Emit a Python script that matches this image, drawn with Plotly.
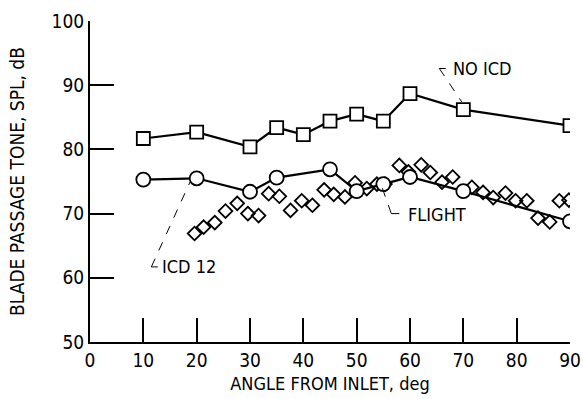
import plotly.graph_objects as go

# Blade passage tone SPL vs. angle from inlet
no_icd_angle = [10, 20, 30, 35, 40, 45, 50, 55, 60, 70, 90]
no_icd_spl = [81.7, 82.7, 80.4, 83.4, 82.3, 84.4, 85.5, 84.4, 88.7, 86.2, 83.7]

icd12_angle = [10, 20, 30, 35, 45, 50, 55, 60, 70, 90]
icd12_spl = [75.3, 75.5, 73.4, 75.6, 76.9, 73.5, 74.6, 75.7, 73.5, 68.8]

flight_angle = [19.6, 21.3, 23.4, 25.4, 27.6, 29.6, 31.6, 33.5, 35.5, 37.6,
                39.7, 41.7, 43.9, 45.7, 47.8, 49.7, 51.9, 53.8, 55.3, 58.0,
                59.7, 62.1, 63.8, 66.0, 68.0, 71.6, 73.7, 75.6, 77.9, 79.8,
                81.9, 84.0, 86.2, 88.0, 89.8]
flight_spl = [66.9, 67.9, 68.6, 70.4, 71.6, 70.0, 69.7, 73.1, 72.7, 70.5,
              72.0, 71.3, 73.7, 73.0, 72.6, 74.8, 73.9, 74.6, 74.6, 77.5,
              76.5, 77.6, 76.4, 74.9, 75.7, 74.1, 73.3, 72.5, 73.2, 72.0,
              72.0, 69.3, 68.7, 72.0, 72.1]

x_ticks = [0, 10, 20, 30, 40, 50, 60, 70, 80, 90]
y_ticks = [50, 60, 70, 80, 90, 100]

FONT = "DejaVu Sans Condensed, Liberation Sans Narrow, sans-serif"
INK = "black"

fig = go.Figure()

fig.add_trace(go.Scatter(
    x=flight_angle, y=flight_spl, mode="markers", name="FLIGHT",
    marker=dict(symbol="diamond-open", size=10.5, color=INK,
                line=dict(width=1.8, color=INK)),
))
fig.add_trace(go.Scatter(
    x=icd12_angle, y=icd12_spl, mode="lines+markers", name="ICD 12",
    line=dict(color=INK, width=2.2),
    marker=dict(symbol="circle", size=14, color="white",
                line=dict(width=1.8, color=INK)),
))
fig.add_trace(go.Scatter(
    x=no_icd_angle, y=no_icd_spl, mode="lines+markers", name="NO ICD",
    line=dict(color=INK, width=2.2),
    marker=dict(symbol="square", size=13, color="white",
                line=dict(width=1.8, color=INK)),
))

# Curve labels with dashed leaders
labels = [
    dict(text="NO ICD", x=67.6, y=92.6, lead=[(65.5, 92.6), (66.7, 92.6)],
         diag=[(65.5, 92.6), (69.7, 87.4)]),
    dict(text="FLIGHT", x=59.3, y=69.9, lead=[(56.5, 70.0), (58.0, 70.0)],
         diag=[(56.5, 70.0), (54.8, 74.0)]),
    dict(text="ICD 12", x=13.1, y=61.7, lead=[(11.5, 61.7), (12.7, 61.7)],
         diag=[(11.5, 61.7), (18.8, 75.0)]),
]
for lab in labels:
    fig.add_annotation(x=lab["x"], y=lab["y"], text=lab["text"], showarrow=False,
                       xanchor="left", yanchor="middle",
                       font=dict(family=FONT, size=18, color=INK))
    for seg in (lab["lead"], lab["diag"]):
        (x0, y0), (x1, y1) = seg
        fig.add_shape(type="line", x0=x0, y0=y0, x1=x1, y1=y1,
                      line=dict(color=INK, width=1, dash="dash"))

fig.update_xaxes(
    range=[0, 90], tickvals=x_ticks, ticktext=[str(v) for v in x_ticks],
    showline=True, linecolor=INK, linewidth=2, mirror=False,
    ticks="inside", ticklen=24, tickwidth=1.5, tickcolor=INK,
    showgrid=False, zeroline=False, automargin=False,
    tickfont=dict(family=FONT, size=19, color=INK),
    title=dict(text="ANGLE FROM INLET, deg", standoff=8,
               font=dict(family=FONT, size=18, color=INK)),
)
fig.update_yaxes(
    range=[50, 100], tickvals=y_ticks, ticktext=[str(v) for v in y_ticks],
    showline=True, linecolor=INK, linewidth=2, mirror=False,
    ticks="inside", ticklen=24, tickwidth=1.5, tickcolor=INK,
    showgrid=False, zeroline=False, automargin=False,
    tickfont=dict(family=FONT, size=19, color=INK),
    title=dict(text="BLADE PASSAGE TONE, SPL, dB", standoff=22,
               font=dict(family=FONT, size=19, color=INK)),
)

fig.update_layout(
    width=583, height=399,
    margin=dict(l=90, r=13, t=21, b=57, pad=0),
    paper_bgcolor="white", plot_bgcolor="white",
    showlegend=False,
)

fig.write_html("out.html")
